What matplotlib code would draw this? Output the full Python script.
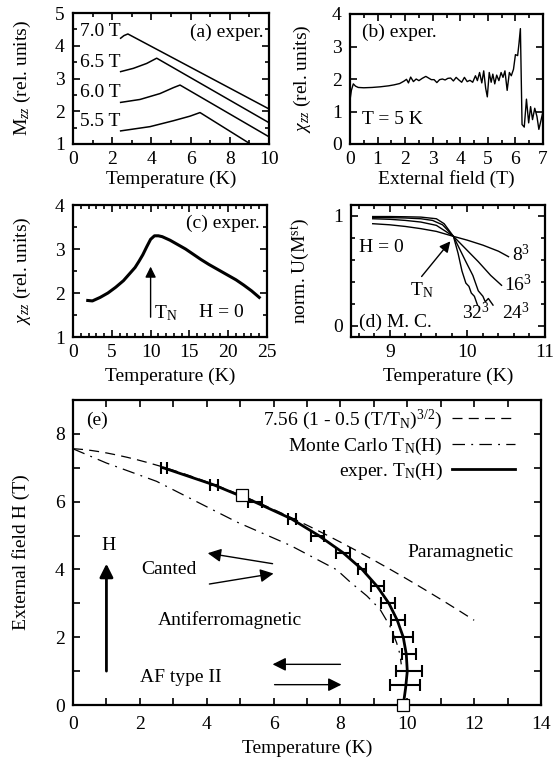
import numpy as np
import matplotlib
matplotlib.use("Agg")
import matplotlib.pyplot as plt
from matplotlib.ticker import MultipleLocator

plt.rcParams['font.family'] = ['Liberation Serif', 'DejaVu Serif']
plt.rcParams['mathtext.fontset'] = 'custom'
plt.rcParams['mathtext.rm'] = 'Liberation Serif'
plt.rcParams['mathtext.it'] = 'Liberation Serif:italic'
plt.rcParams['font.size'] = 14

# (a) magnetisation vs temperature at fixed fields
mag_fields = ["7.0 T", "6.5 T", "6.0 T", "5.5 T"]
mag_temp = [
    [2.43, 2.6, 2.8, 10.0],
    [2.43, 3.08, 3.76, 4.27, 10.0],
    [2.43, 3.42, 4.44, 5.12, 5.46, 10.0],
    [2.43, 3.93, 5.12, 5.97, 6.48, 9.05],
]
mag_val = [
    [4.23, 4.31, 4.36, 2.07],
    [3.21, 3.31, 3.46, 3.62, 1.65],
    [2.27, 2.36, 2.54, 2.72, 2.80, 1.22],
    [1.40, 1.53, 1.71, 1.85, 1.96, 1.00],
]
mag_label_y = [4.43, 3.48, 2.57, 1.68]

# (b) susceptibility vs external field at T = 5 K
field_b = [0.00, 0.05, 0.12, 0.20, 0.30, 0.50, 0.80, 1.10, 1.40, 1.60, 1.80, 1.95,
           2.05, 2.12, 2.20, 2.30, 2.40, 2.50, 2.62, 2.75, 2.85, 2.95, 3.05, 3.15,
           3.25, 3.35, 3.45, 3.55, 3.65, 3.75, 3.85, 3.95, 4.05, 4.15, 4.25, 4.35,
           4.45, 4.55, 4.62, 4.70, 4.78, 4.85, 4.92, 4.98, 5.05, 5.12, 5.18, 5.25,
           5.32, 5.40, 5.48, 5.55, 5.62, 5.70, 5.78, 5.85, 5.93, 6.00, 6.08, 6.13,
           6.18, 6.24, 6.32, 6.40, 6.48, 6.55, 6.62, 6.70, 6.78, 6.85, 6.92, 7.00]
chi_b = [1.35, 1.65, 1.85, 1.78, 1.74, 1.73, 1.74, 1.76, 1.79, 1.82, 1.86, 1.93,
         1.99, 1.88, 2.06, 1.92, 2.00, 1.95, 2.02, 2.08, 2.03, 1.98, 1.98, 1.89,
         1.98, 2.00, 1.97, 2.02, 2.03, 1.94, 2.05, 1.97, 1.90, 2.05, 1.92, 1.96,
         1.90, 2.10, 1.95, 2.20, 1.88, 2.25, 1.72, 1.45, 2.20, 1.90, 2.15, 1.85,
         2.12, 1.95, 2.20, 2.05, 2.25, 1.65, 2.20, 2.10, 2.30, 2.75, 2.72, 3.10,
         3.55, 0.60, 0.52, 1.38, 0.65, 1.15, 0.75, 1.10, 0.85, 0.45, 0.70, 1.00]

# (c) susceptibility vs temperature at H = 0
temp_c = [1.9, 2.5, 3.0, 3.5, 4.5, 5.5, 6.5, 7.5, 8.0, 8.5, 9.0, 9.5, 10.0, 10.5,
          11.0, 11.5, 12.5, 13.5, 14.5, 15.5, 16.5, 17.5, 19.0, 20.0, 21.0, 22.0,
          23.0, 24.0]
chi_c = [1.83, 1.82, 1.86, 1.90, 2.00, 2.13, 2.28, 2.48, 2.58, 2.72, 2.87, 3.05,
         3.22, 3.30, 3.30, 3.28, 3.20, 3.10, 3.00, 2.88, 2.76, 2.65, 2.50, 2.40,
         2.30, 2.18, 2.05, 1.90]

# (d) Monte Carlo Binder cumulant for several lattice sizes
sizes = ["$8^3$", "$16^3$", "$24^3$", "$32^3$"]
binder_t = [
    [8.78, 9.0, 9.2, 9.4, 9.6, 9.82, 10.0, 10.2, 10.4, 10.53],
    [8.78, 9.0, 9.2, 9.4, 9.6, 9.82, 9.98, 10.14, 10.3, 10.44],
    [8.78, 9.0, 9.2, 9.4, 9.55, 9.68, 9.82, 9.9, 9.98, 10.07, 10.14, 10.2,
     10.23, 10.27, 10.33],
    [8.78, 9.0, 9.2, 9.4, 9.6, 9.7, 9.82, 9.88, 9.93, 9.98, 10.02, 10.05,
     10.09, 10.13],
]
binder_u = [
    [0.93, 0.92, 0.905, 0.885, 0.86, 0.815, 0.78, 0.735, 0.68, 0.63],
    [0.975, 0.97, 0.96, 0.945, 0.915, 0.815, 0.70, 0.585, 0.46, 0.37],
    [0.986, 0.985, 0.982, 0.975, 0.96, 0.92, 0.815, 0.70, 0.585, 0.46, 0.32,
     0.27, 0.22, 0.25, 0.19],
    [0.995, 0.995, 0.993, 0.99, 0.975, 0.93, 0.815, 0.66, 0.50, 0.39, 0.36,
     0.30, 0.27, 0.19],
]
size_label_pos = [(10.58, 0.65), (10.47, 0.38), (10.44, 0.12), (9.93, 0.12)]

# (e) phase diagram
field_exp = [7.0, 6.5, 6.0, 5.5, 5.0, 4.5, 4.0, 3.5, 3.0, 2.5, 2.0, 1.5, 1.0, 0.6]
tn_exp = [2.72, 4.22, 5.45, 6.55, 7.32, 8.08, 8.65, 9.10, 9.42, 9.72, 9.88, 10.05,
          10.05, 9.92]
tn_err = [0.10, 0.12, 0.20, 0.12, 0.20, 0.20, 0.12, 0.20, 0.20, 0.20, 0.30, 0.20,
          0.40, 0.45]
fit_h = [7.0, 6.5, 6.0, 5.5, 5.0, 4.5, 4.0, 3.5, 3.0, 2.5, 2.0, 1.5, 1.0, 0.5, 0.0]
fit_t = [2.70, 4.20, 5.42, 6.52, 7.35, 8.07, 8.65, 9.10, 9.45, 9.70, 9.88, 9.97,
         10.0, 9.95, 9.88]
mc_t = [0.0, 1.0, 2.5, 4.0, 4.9, 6.5, 7.89, 8.29, 8.79, 9.18, 9.48, 9.68, 9.78, 9.82]
mc_h = [7.56, 7.14, 6.60, 5.85, 5.40, 4.71, 3.99, 3.63, 3.22, 2.83, 2.33, 1.84,
        1.50, 1.20]
square_t = [5.05, 9.88]
square_h = [6.20, 0.00]
h0 = 7.56
tn0 = 9.88


def style_axes(ax, xmaj, xmin, ymaj, ymin, minor_len=3):
    ax.xaxis.set_major_locator(MultipleLocator(xmaj))
    ax.xaxis.set_minor_locator(MultipleLocator(xmin))
    ax.yaxis.set_major_locator(MultipleLocator(ymaj))
    ax.yaxis.set_minor_locator(MultipleLocator(ymin))
    ax.tick_params(which='both', direction='in', top=True, right=True,
                   width=1.2, labelsize=14)
    ax.tick_params(which='major', length=5)
    ax.tick_params(which='minor', length=minor_len)
    ax.tick_params(axis='x', pad=5)
    ax.tick_params(axis='y', pad=6)
    for sp in ax.spines.values():
        sp.set_linewidth(1.6)


fig = plt.figure(figsize=(5.53, 7.69), dpi=100)
W, H = 553.0, 769.0


def add_panel(left, top, right, bottom):
    return fig.add_axes([left / W, 1 - bottom / H, (right - left) / W, (bottom - top) / H])


# ---- (a)
ax = add_panel(73, 13, 269, 144)
for t, m, lab, ly in zip(mag_temp, mag_val, mag_fields, mag_label_y):
    ax.plot(t, m, color='black', lw=1.1)
    ax.text(0.35, ly, lab, fontsize=14, va='center', ha='left')
ax.text(9.7, 4.42, "(a) exper.", fontsize=14, va='center', ha='right')
ax.set_xlim(0, 10)
ax.set_ylim(1, 5)
style_axes(ax, 2, 1, 1, 0.5)
ax.set_xlabel("Temperature (K)")
ax.set_ylabel("M$_{zz}$ (rel. units)")
ax.yaxis.set_label_coords(-0.205, 0.5)
ax.xaxis.set_label_coords(0.5, -0.2)

# ---- (b)
ax = add_panel(350, 14, 543, 144)
ax.plot(field_b, chi_b, color='black', lw=1.0)
ax.text(0.45, 3.45, "(b) exper.", fontsize=14, va='center', ha='left')
ax.text(0.45, 0.75, "T = 5 K", fontsize=14, va='center', ha='left')
ax.set_xlim(0, 7)
ax.set_ylim(0, 4)
style_axes(ax, 1, 0.5, 1, 1)
ax.set_xlabel("External field (T)")
ax.set_ylabel("$\\chi_{zz}$ (rel. units)")
ax.yaxis.set_label_coords(-0.19, 0.5)
ax.xaxis.set_label_coords(0.5, -0.2)

# ---- (c)
ax = add_panel(73, 205, 267, 337)
ax.plot(temp_c, chi_c, color='black', lw=2.2)
ax.annotate("", xy=(10, 2.6), xytext=(10, 1.45),
            arrowprops=dict(arrowstyle='-|>', color='black', lw=1.0,
                            mutation_scale=16, shrinkA=0, shrinkB=0))
ax.text(10.5, 1.55, "T$_\\mathrm{N}$", fontsize=14, va='center', ha='left')
ax.text(16.3, 1.55, "H = 0", fontsize=14, va='center', ha='left')
ax.text(24.0, 3.58, "(c) exper.", fontsize=14, va='center', ha='right')
ax.set_xlim(0, 25)
ax.set_ylim(1, 4)
style_axes(ax, 5, 1, 1, 0.5)
ax.set_xlabel("Temperature (K)")
ax.set_ylabel("$\\chi_{zz}$ (rel. units)")
ax.yaxis.set_label_coords(-0.205, 0.5)
ax.xaxis.set_label_coords(0.5, -0.23)

# ---- (d)
ax = add_panel(351, 205, 545, 337)
for t, u in zip(binder_t, binder_u):
    ax.plot(t, u, color='black', lw=1.0)
for lab, (x, y) in zip(sizes, size_label_pos):
    ax.text(x, y, lab, fontsize=14, va='center', ha='left')
ax.annotate("", xy=(9.78, 0.77), xytext=(9.41, 0.45),
            arrowprops=dict(arrowstyle='-|>', color='black', lw=1.0,
                            mutation_scale=16, shrinkA=0, shrinkB=0))
ax.text(9.41, 0.33, "T$_\\mathrm{N}$", fontsize=14, va='center', ha='center')
ax.text(8.6, 0.71, "H = 0", fontsize=14, va='center', ha='left')
ax.text(8.6, 0.03, "(d) M. C.", fontsize=14, va='center', ha='left')
ax.set_xlim(8.5, 11)
ax.set_ylim(-0.1, 1.1)
style_axes(ax, 1, 0.2, 1, 0.2)
ax.set_xlabel("Temperature (K)")
ax.set_ylabel("norm. U(M$^{\\mathrm{st}}$)")
ax.yaxis.set_label_coords(-0.2, 0.5)
ax.xaxis.set_label_coords(0.5, -0.23)

# ---- (e) phase diagram
ax = add_panel(73, 400, 541, 705)
t_dash = np.linspace(0, 12, 200)
ax.plot(t_dash, h0 * (1 - 0.5 * (t_dash / tn0) ** 1.5), color='black', lw=0.9,
        ls=(0, (8, 5)), label="7.56 (1 - 0.5 (T/T$_\\mathrm{N}$)$^{3/2}$)")
ax.plot(mc_t, mc_h, color='black', lw=0.9, ls=(0, (10, 5, 1.5, 5)),
        label="Monte Carlo T$_\\mathrm{N}$(H)")
ax.plot(fit_t, fit_h, color='black', lw=2.0, label="exper. T$_\\mathrm{N}$(H)")
ax.errorbar(tn_exp, field_exp, xerr=tn_err, fmt='none', ecolor='black',
            elinewidth=1.5, capsize=4, capthick=1.5)
ax.plot(square_t, square_h, ls='none', marker='s', ms=9, mfc='white', mec='black',
        mew=0.9, clip_on=False, zorder=5)

# region labels and spin arrows
ax.text(0.4, 8.4, "(e)", fontsize=14, va='center', ha='left')
ax.text(10.0, 4.5, "Paramagnetic", fontsize=14, va='center', ha='left')
ax.text(2.05, 4.0, "Canted", fontsize=14, va='center', ha='left')
ax.text(2.55, 2.5, "Antiferromagnetic", fontsize=14, va='center', ha='left')
ax.text(2.0, 0.82, "AF type II", fontsize=14, va='center', ha='left')
ax.text(1.05, 4.7, "H", fontsize=14, va='center', ha='center')
ax.annotate("", xy=(1.0, 4.17), xytext=(1.0, 1.0),
            arrowprops=dict(arrowstyle='-|>', color='black', lw=2.0,
                            mutation_scale=20, shrinkA=0, shrinkB=0))
spin_arrows = [((5.97, 4.17), (4.03, 4.48)), ((4.08, 3.57), (6.0, 3.88)),
               ((8.0, 1.2), (5.97, 1.2)), ((6.03, 0.6), (8.03, 0.6))]
for tail, head in spin_arrows:
    ax.annotate("", xy=head, xytext=tail,
                arrowprops=dict(arrowstyle='-|>', color='black', lw=1.0,
                                mutation_scale=20, shrinkA=0, shrinkB=0))

ax.set_xlim(0, 14)
ax.set_ylim(0, 9)
style_axes(ax, 2, 1, 2, 1, minor_len=5)
ax.tick_params(axis='x', pad=8)
ax.set_xlabel("Temperature (K)")
ax.set_ylabel("External field H (T)")
ax.yaxis.set_label_coords(-0.092, 0.5)
ax.xaxis.set_label_coords(0.5, -0.115)
ax.legend(loc='upper right', frameon=False, markerfirst=False, fontsize=14,
          handlelength=3.2, handletextpad=0.5, labelspacing=0.2,
          borderaxespad=0.0, bbox_to_anchor=(0.96, 1.0))

fig.savefig("out.png", dpi=100)
